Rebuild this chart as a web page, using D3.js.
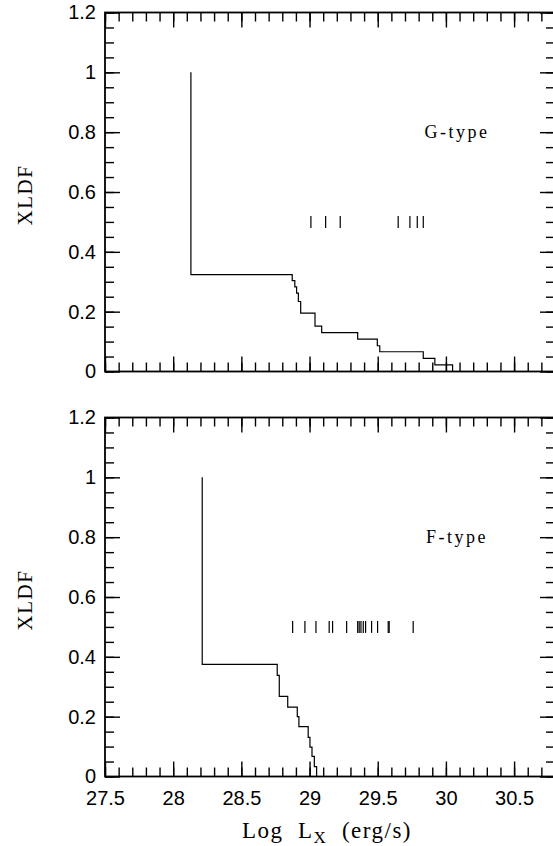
<!DOCTYPE html>
<html>
<head>
<meta charset="utf-8">
<script src="https://cdn.jsdelivr.net/npm/d3@7"></script>
<style>
  body { margin: 0; background: #fff; }
  svg { display: block; }
</style>
</head>
<body>
<div id="chart"></div>
<script>
// step curves (Kaplan-Meier XLDF)
var gLogL = [28.13, 28.13, 28.873, 28.892, 28.905, 28.918, 28.935, 29.04, 29.089, 29.353, 29.497, 29.515, 29.834, 29.919, 30.049];
var gXLDF = [1, 0.324, 0.304, 0.283, 0.262, 0.234, 0.195, 0.152, 0.130, 0.108, 0.086, 0.066, 0.044, 0.022, 0];
var fLogL = [28.213, 28.213, 28.763, 28.778, 28.84, 28.91, 28.922, 28.99, 29.003, 29.018, 29.035, 29.052];
var fXLDF = [1, 0.375, 0.338, 0.268, 0.232, 0.200, 0.167, 0.131, 0.098, 0.067, 0.033, 0];

// detections, drawn as little bars at XLDF = 0.5
var gDetect = [29.010, 29.118, 29.225, 29.650, 29.736, 29.790, 29.834];
var fDetect = [28.876, 28.966, 29.047, 29.144, 29.169, 29.272, 29.353, 29.364, 29.377, 29.394, 29.411, 29.455, 29.499, 29.577, 29.584, 29.760];

var xMajor = [27.5, 28, 28.5, 29, 29.5, 30, 30.5];
var yMajor = [0, 0.2, 0.4, 0.6, 0.8, 1, 1.2];
var panelNames = ["G-type", "F-type"];

var W = 553, H = 846;
var svg = d3.select("#chart").append("svg")
    .attr("width", W)
    .attr("height", H);

var x = d3.scaleLinear().domain([27.5, 30.8]).range([105, 555]);

var xMinor = d3.range(27.5, 30.85, 0.1).map(function(v) { return +v.toFixed(1); });
var yMinor = d3.range(0, 1.21, 0.05).map(function(v) { return +v.toFixed(2); });

var panels = [
    {top: 12.5, bottom: 371.5, lx: gLogL, ly: gXLDF, det: gDetect, name: panelNames[0], labels: false},
    {top: 417.5, bottom: 776.5, lx: fLogL, ly: fXLDF, det: fDetect, name: panelNames[1], labels: true}
];

var numFont = "'Liberation Sans', Arial, sans-serif";
var serifFont = "'Liberation Serif', 'DejaVu Serif', serif";

panels.forEach(function(p) {
    var y = d3.scaleLinear().domain([0, 1.2]).range([p.bottom, p.top]);
    var g = svg.append("g");

    function addAxis(axis, tx, ty, showText) {
        var a = g.append("g")
            .attr("transform", "translate(" + tx + "," + ty + ")")
            .call(axis);
        a.select(".domain").remove();
        a.selectAll("line").attr("stroke", "#000").attr("stroke-width", 1.4);
        a.selectAll("text")
            .attr("fill", "#000")
            .style("font-family", numFont)
            .style("font-size", "20px");
        if (!showText) a.selectAll("text").remove();
        return a;
    }

    // x axes (bottom and top), minor then major
    addAxis(d3.axisBottom(x).tickValues(xMinor).tickSize(-9).tickFormat(""), 0, p.bottom, false);
    addAxis(d3.axisBottom(x).tickValues(xMajor).tickSize(-15).tickPadding(14)
        .tickFormat(function(d) { return d; }), 0, p.bottom, p.labels);
    addAxis(d3.axisTop(x).tickValues(xMinor).tickSize(-9).tickFormat(""), 0, p.top, false);
    addAxis(d3.axisTop(x).tickValues(xMajor).tickSize(-15).tickFormat(""), 0, p.top, false);

    // y axes (left and right)
    addAxis(d3.axisLeft(y).tickValues(yMinor).tickSize(-9).tickFormat(""), x.range()[0], 0, false);
    addAxis(d3.axisLeft(y).tickValues(yMajor).tickSize(-15).tickPadding(9)
        .tickFormat(function(d) { return d; }), x.range()[0], 0, true);
    addAxis(d3.axisRight(y).tickValues(yMinor).tickSize(-9).tickFormat(""), x.range()[1], 0, false);
    addAxis(d3.axisRight(y).tickValues(yMajor).tickSize(-15).tickFormat(""), x.range()[1], 0, false);

    // frame
    g.append("rect")
        .attr("x", x.range()[0])
        .attr("y", p.top)
        .attr("width", x.range()[1] - x.range()[0])
        .attr("height", p.bottom - p.top)
        .attr("fill", "none")
        .attr("stroke", "#000")
        .attr("stroke-width", 1.8);

    // step curve
    var line = d3.line()
        .curve(d3.curveStepAfter)
        .x(function(d, i) { return x(p.lx[i]); })
        .y(function(d, i) { return y(p.ly[i]); });

    g.append("path")
        .datum(p.lx)
        .attr("fill", "none")
        .attr("stroke", "#000")
        .attr("stroke-width", 1.2)
        .attr("d", line);

    // detection markers
    g.selectAll(".det")
        .data(p.det)
        .enter().append("line")
        .attr("x1", function(d) { return x(d); })
        .attr("x2", function(d) { return x(d); })
        .attr("y1", y(0.52))
        .attr("y2", y(0.48))
        .attr("stroke", "#000")
        .attr("stroke-width", 1.2);

    // panel name
    g.append("text")
        .attr("x", 457)
        .attr("y", y(0.8) + 6)
        .attr("text-anchor", "middle")
        .style("font-family", serifFont)
        .style("font-size", "18px")
        .style("letter-spacing", "2.5px")
        .text(p.name);

    // y title
    g.append("text")
        .attr("transform", "translate(32," + ((p.top + p.bottom) / 2 + 3) + ") rotate(-90)")
        .attr("text-anchor", "middle")
        .style("font-family", serifFont)
        .style("font-size", "21px")
        .style("letter-spacing", "1.5px")
        .text("XLDF");
});

// x title
var xt = svg.append("text")
    .attr("x", 327)
    .attr("y", 838)
    .attr("text-anchor", "middle")
    .style("font-family", serifFont)
    .style("font-size", "23px")
    .style("letter-spacing", "1.5px")
    .attr("xml:space", "preserve");
xt.append("tspan").text("Log  L");
xt.append("tspan").attr("dy", 5).style("font-size", "17px").text("X");
xt.append("tspan").attr("dy", -5).text("  (erg/s)");
</script>
</body>
</html>
